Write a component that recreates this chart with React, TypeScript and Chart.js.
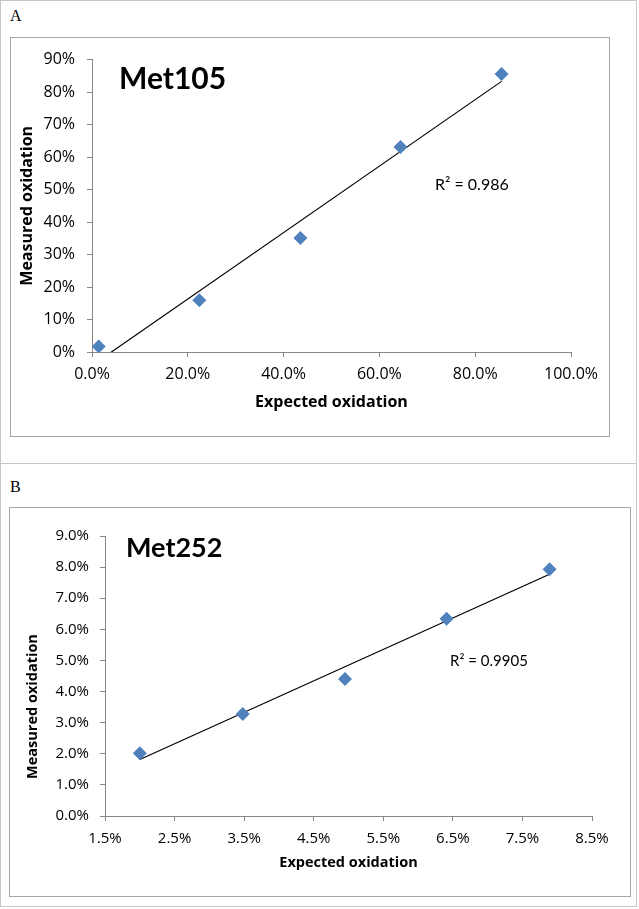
import React, { useEffect, useRef } from "react";
import { Chart, registerables } from "chart.js";
Chart.register(...registerables);

// ---- Panel A data (percent units) ----
const expectedA = [1.4, 22.4, 43.5, 64.4, 85.5];
const measuredA = [1.7, 15.9, 35.1, 63.1, 85.6];
const xTicksA = [0, 20, 40, 60, 80, 100];
const yTicksA = [0, 10, 20, 30, 40, 50, 60, 70, 80, 90];
const titleA = "Met105";
const r2A = "R² = 0.986";

// ---- Panel B data (percent units) ----
const expectedB = [2.0, 3.48, 4.95, 6.41, 7.89];
const measuredB = [2.02, 3.28, 4.4, 6.34, 7.93];
const xTicksB = [1.5, 2.5, 3.5, 4.5, 5.5, 6.5, 7.5, 8.5];
const yTicksB = [0, 1, 2, 3, 4, 5, 6, 7, 8, 9];
const titleB = "Met252";
const r2B = "R² = 0.9905";

const xLabel = "Expected oxidation";
const yLabel = "Measured oxidation";

const FONT = "Lato, 'Open Sans', sans-serif";
const AXFONT = "'Open Sans', Lato, sans-serif";
const MARKER = "#4F81BD";
const AXIS = "#868686";

function trend(xs: number[], ys: number[]) {
  const n = xs.length;
  const mx = xs.reduce((a, b) => a + b, 0) / n;
  const my = ys.reduce((a, b) => a + b, 0) / n;
  let sxy = 0, sxx = 0;
  for (let i = 0; i < n; i++) {
    sxy += (xs[i] - mx) * (ys[i] - my);
    sxx += (xs[i] - mx) * (xs[i] - mx);
  }
  const slope = sxy / sxx;
  const icpt = my - slope * mx;
  const x0 = Math.min(...xs);
  const x1 = Math.max(...xs);
  return [
    { x: x0, y: icpt + slope * x0 },
    { x: x1, y: icpt + slope * x1 },
  ];
}

type TextItem = { text: string; x: number; y: number; font: string; rotate?: boolean };

type PanelCfg = {
  xs: number[];
  ys: number[];
  xTicks: number[];
  yTicks: number[];
  xFmt: (v: number) => string;
  yFmt: (v: number) => string;
  width: number;
  height: number;
  yAxisWidth: number;
  xAxisHeight: number;
  padTop: number;
  padRight: number;
  tickSize: number;
  titleSize: number;
  yTitleBuiltIn: boolean;
  yTitlePad: number;
  xTitlePad: number;
  xTickPad: number;
  yTickPad: number;
  texts: TextItem[];
};

function ChartCanvas({ cfg }: { cfg: PanelCfg }) {
  const ref = useRef<HTMLCanvasElement | null>(null);
  useEffect(() => {
    if (!ref.current) return;
    const textPlugin = {
      id: "overlayTexts",
      afterDraw(chart: any) {
        const ctx = chart.ctx;
        for (const t of cfg.texts) {
          ctx.save();
          ctx.fillStyle = "#000";
          ctx.font = t.font;
          if (t.rotate) {
            ctx.translate(t.x, t.y);
            ctx.rotate(-Math.PI / 2);
            ctx.textAlign = "center";
            ctx.textBaseline = "middle";
            ctx.fillText(t.text, 0, 0);
          } else {
            ctx.textAlign = "left";
            ctx.textBaseline = "alphabetic";
            ctx.fillText(t.text, t.x, t.y);
          }
          ctx.restore();
        }
      },
    };
    const pts = cfg.xs.map((x, i) => ({ x, y: cfg.ys[i] }));
    const chart = new Chart(ref.current, {
      type: "scatter",
      data: {
        datasets: [
          {
            data: pts,
            pointStyle: "rectRot",
            pointRadius: 7,
            backgroundColor: MARKER,
            borderColor: MARKER,
            borderWidth: 0,
            order: 0,
          },
          {
            data: trend(cfg.xs, cfg.ys),
            showLine: true,
            pointRadius: 0,
            borderColor: "#000",
            borderWidth: 1.2,
            order: 1,
          } as any,
        ],
      },
      options: {
        animation: false,
        responsive: false,
        maintainAspectRatio: false,
        layout: { padding: { top: cfg.padTop, right: cfg.padRight, left: 0, bottom: 0 } },
        plugins: { legend: { display: false }, tooltip: { enabled: false } },
        scales: {
          x: {
            type: "linear",
            min: cfg.xTicks[0],
            max: cfg.xTicks[cfg.xTicks.length - 1],
            afterBuildTicks: (s: any) => {
              s.ticks = cfg.xTicks.map((v) => ({ value: v }));
            },
            afterFit: (s: any) => {
              s.height = cfg.xAxisHeight;
            },
            ticks: {
              callback: (v: any) => cfg.xFmt(Number(v)),
              color: "#000",
              font: { family: AXFONT, size: cfg.tickSize },
              padding: cfg.xTickPad,
              maxRotation: 0,
              autoSkip: false,
            },
            grid: { drawOnChartArea: false, color: AXIS, tickLength: 5 },
            border: { color: AXIS, width: 1 },
            title: {
              display: true,
              text: xLabel,
              color: "#000",
              font: { family: AXFONT, size: cfg.titleSize, weight: "bold" },
              padding: { top: 0, bottom: cfg.xTitlePad },
            },
          },
          y: {
            type: "linear",
            min: cfg.yTicks[0],
            max: cfg.yTicks[cfg.yTicks.length - 1],
            afterBuildTicks: (s: any) => {
              s.ticks = cfg.yTicks.map((v) => ({ value: v }));
            },
            afterFit: (s: any) => {
              s.width = cfg.yAxisWidth;
            },
            ticks: {
              callback: (v: any) => cfg.yFmt(Number(v)),
              color: "#000",
              font: { family: AXFONT, size: cfg.tickSize },
              padding: cfg.yTickPad,
              autoSkip: false,
            },
            grid: { drawOnChartArea: false, color: AXIS, tickLength: 5 },
            border: { color: AXIS, width: 1 },
            title: {
              display: cfg.yTitleBuiltIn,
              text: yLabel,
              color: "#000",
              font: { family: AXFONT, size: cfg.titleSize, weight: "bold" },
              padding: { top: cfg.yTitlePad, bottom: 0 },
            },
          },
        },
      },
      plugins: [textPlugin],
    } as any);
    return () => chart.destroy();
  }, [cfg]);
  return (
    <canvas
      ref={ref}
      width={cfg.width}
      height={cfg.height}
      style={{ display: "block", width: cfg.width, height: cfg.height }}
    />
  );
}

const cfgA: PanelCfg = {
  xs: expectedA,
  ys: measuredA,
  xTicks: xTicksA,
  yTicks: yTicksA,
  xFmt: (v) => v.toFixed(1) + "%",
  yFmt: (v) => Math.round(v) + "%",
  width: 598,
  height: 398,
  yAxisWidth: 81,
  xAxisHeight: 84,
  padTop: 20,
  padRight: 38,
  tickSize: 16,
  titleSize: 16,
  yTitleBuiltIn: true,
  yTitlePad: 7,
  xTitlePad: 24,
  xTickPad: 8,
  yTickPad: 12,
  texts: [
    { text: titleA, x: 108, y: 51, font: `bold 30px ${FONT}` },
    { text: r2A, x: 424, y: 152, font: `16px ${FONT}` },
  ],
};

const cfgB: PanelCfg = {
  xs: expectedB,
  ys: measuredB,
  xTicks: xTicksB,
  yTicks: yTicksB,
  xFmt: (v) => v.toFixed(1) + "%",
  yFmt: (v) => v.toFixed(1) + "%",
  width: 620,
  height: 388,
  yAxisWidth: 95,
  xAxisHeight: 80,
  padTop: 28,
  padRight: 38,
  tickSize: 15,
  titleSize: 14.5,
  yTitleBuiltIn: false,
  yTitlePad: 14,
  xTitlePad: 24,
  xTickPad: 9,
  yTickPad: 11,
  texts: [
    { text: titleB, x: 116, y: 49, font: `bold 27px ${FONT}` },
    { text: r2B, x: 440, y: 158, font: `15px ${FONT}` },
    { text: yLabel, x: 23, y: 198.5, font: `bold 14.5px ${AXFONT}`, rotate: true },
  ],
};

export default function App() {
  useEffect(() => {
    document.body.style.margin = "0";
  }, []);
  const outer = "#c6c6c6";
  const inner = "#a6a6a6";
  const letter: React.CSSProperties = {
    position: "absolute",
    left: 10,
    fontFamily: "'Liberation Serif', 'DejaVu Serif', serif",
    fontSize: 16,
    lineHeight: "16px",
    color: "#000",
  };
  return (
    <div style={{ position: "relative", width: 639, height: 909, background: "#fff", overflow: "hidden" }}>
      <div
        style={{
          position: "absolute",
          left: 0,
          top: 0,
          width: 637,
          height: 907,
          border: `1px solid ${outer}`,
          boxSizing: "border-box",
        }}
      />
      <div style={{ position: "absolute", left: 0, top: 463, width: 637, height: 1, background: outer }} />
      <div style={{ ...letter, top: 8 }}>A</div>
      <div style={{ ...letter, top: 479 }}>B</div>
      <div
        style={{
          position: "absolute",
          left: 10,
          top: 37,
          width: 600,
          height: 400,
          border: `1px solid ${inner}`,
          boxSizing: "border-box",
        }}
      >
        <ChartCanvas cfg={cfgA} />
      </div>
      <div
        style={{
          position: "absolute",
          left: 9,
          top: 507,
          width: 622,
          height: 390,
          border: `1px solid ${inner}`,
          boxSizing: "border-box",
        }}
      >
        <ChartCanvas cfg={cfgB} />
      </div>
    </div>
  );
}
